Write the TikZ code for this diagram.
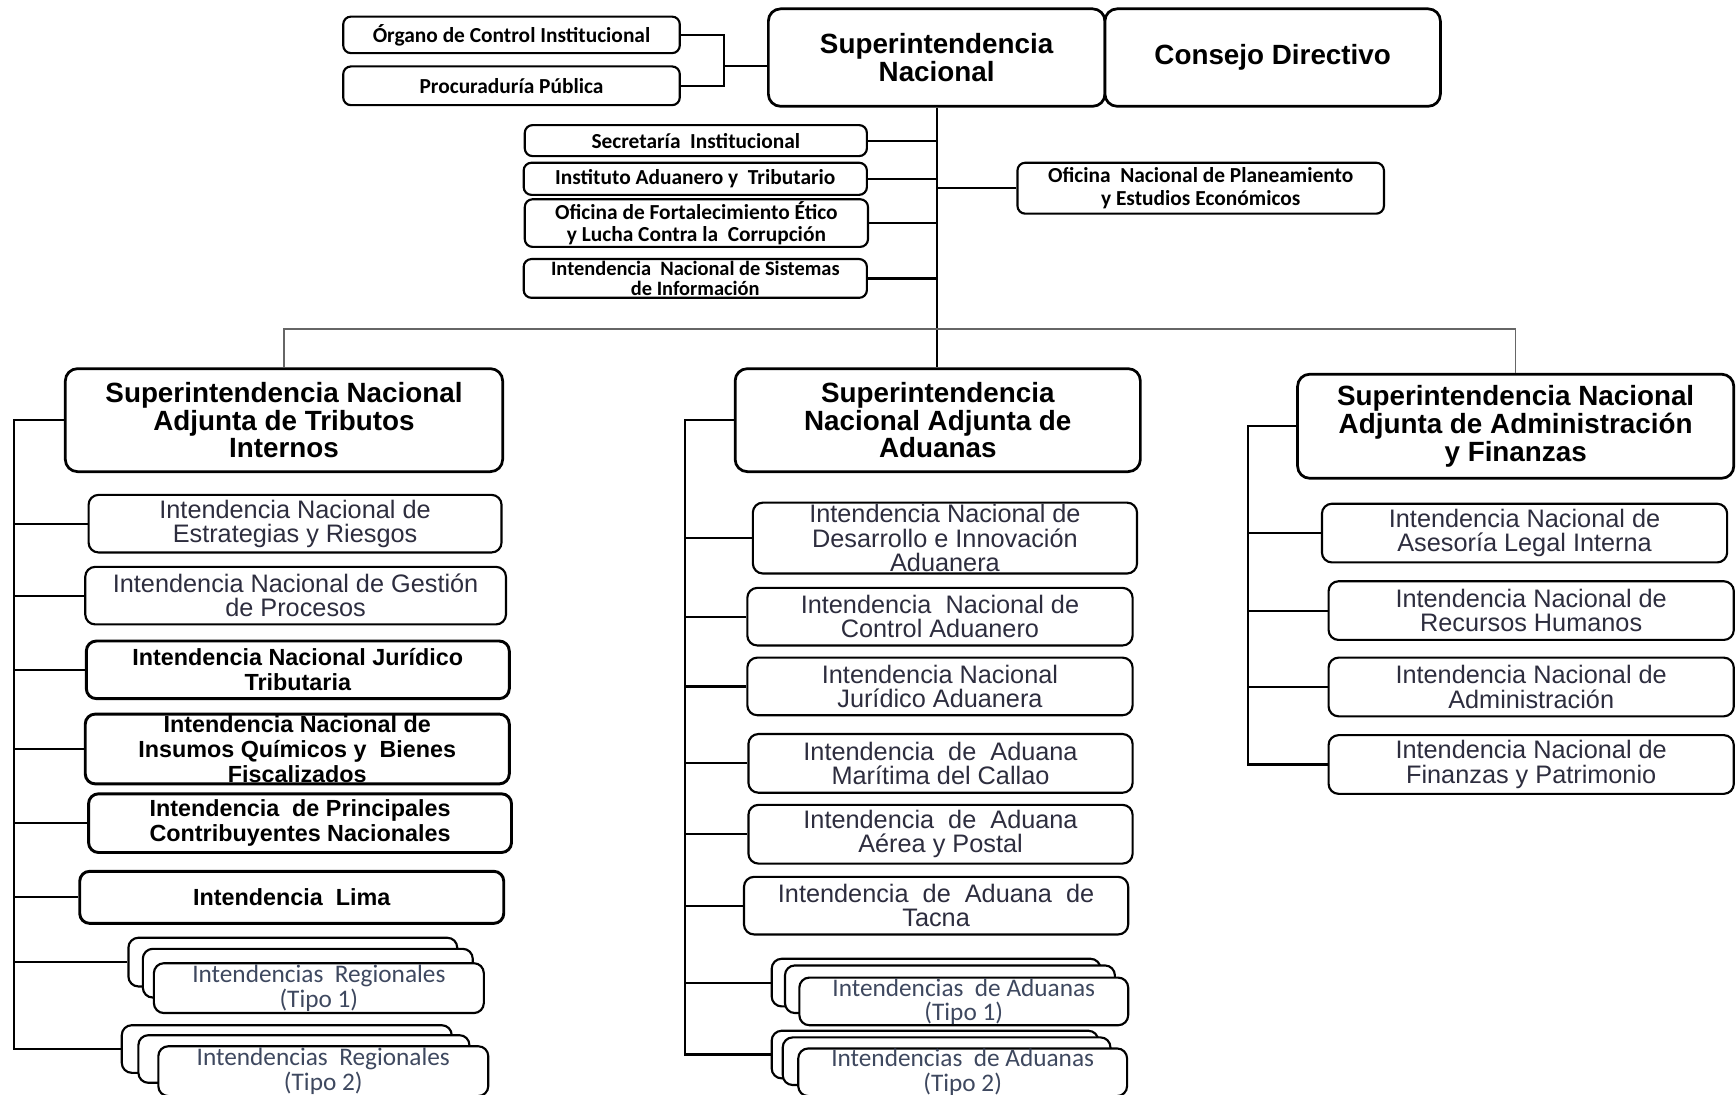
\documentclass[tikz,border=0pt]{standalone}
\usepackage{fontspec}
\setmainfont{Liberation Sans}
\setsansfont{Liberation Sans}
\newfontfamily\calib{Carlito}
\definecolor{unitgray}{RGB}{45,45,62}
\definecolor{reggray}{RGB}{62,72,95}
\tikzset{
  head/.style={draw,line width=1.4pt,rounded corners=0.22cm,fill=white,align=center,inner sep=0pt,font=\fontsize{14.3}{14.2}\selectfont\bfseries},
  small/.style={draw,line width=1.1pt,rounded corners=0.14cm,fill=white,align=center,inner sep=0pt,font=\calib\fontsize{11}{11.5}\selectfont\bfseries},
  unit/.style={draw,line width=1.1pt,rounded corners=0.18cm,fill=white,align=center,inner sep=0pt,text=unitgray,font=\fontsize{13}{12.5}\selectfont},
  unitb/.style={unit,line width=1.5pt,text=black,font=\fontsize{12}{12.8}\selectfont\bfseries},
  multi/.style={unit,text=reggray,font=\calib\fontsize{13}{12.5}\selectfont},
  wh/.style 2 args={minimum width=#1*0.02cm,minimum height=#2*0.02cm},
  link/.style={line width=1.1pt},
  bus/.style={line width=0.8pt,black!60},
}
\begin{document}
\begin{tikzpicture}[x=0.02cm,y=-0.02cm]
  \useasboundingbox (0,0) rectangle (1568,989);
  \node[small,wh={304}{33}] (org) at (462,31.5) {Órgano de Control Institucional};
  \node[small,wh={304}{35}] (proc) at (462,77.5) {Procuraduría Pública};
  \node[head,wh={304}{88}] (sn) at (846,52) {Superintendencia\\Nacional};
  \node[head,wh={303}{88}] (cd) at (1149.5,52) {Consejo Directivo};
  \node[small,wh={309}{28}] (sec) at (628.5,127) {Secretaría\ \ Institucional};
  \node[small,wh={310}{29}] (iat) at (628,161.5) {Instituto Aduanero y\ \ Tributario};
  \node[small,wh={310}{43}] (ofe) at (629,201.5) {Oficina de Fortalecimiento Ético\\y Lucha Contra la\ \ Corrupción};
  \node[small,wh={310}{35},font=\calib\fontsize{10.5}{10.5}\selectfont\bfseries] (insi) at (628,251.5) {Intendencia\ \ Nacional de Sistemas\\de Información};
  \node[small,wh={331}{46}] (onpe) at (1084.5,170) {Oficina\ \ Nacional de Planeamiento\\y Estudios Económicos};
  \coordinate (brk) at (654,60);
  \coordinate (bus) at (846,297);
  \coordinate (spl) at (13,0);
  \coordinate (spm) at (619,0);
  \coordinate (spr) at (1127,0);
  \node[head,wh={395}{93}] (stn) at (256.5,379.5) {Superintendencia Nacional\\Adjunta de Tributos\\Internos};
  \node[head,wh={366}{93}] (sna) at (847,379.5) {Superintendencia\\Nacional Adjunta de\\Aduanas};
  \node[head,wh={394}{94}] (saf) at (1369,385) {Superintendencia Nacional\\Adjunta de Administración\\y Finanzas};
  \node[unit,wh={373}{52}] (l1) at (266.5,473) {Intendencia Nacional de\\Estrategias y Riesgos};
  \node[unit,wh={380}{52}] (l2) at (267,538) {Intendencia Nacional de Gestión\\de Procesos};
  \node[unitb,wh={382}{52}] (l3) at (269,605) {Intendencia Nacional Jurídico\\Tributaria};
  \node[unitb,wh={383}{63}] (l4) at (268.5,676.5) {Intendencia Nacional de\\Insumos Químicos y\ \ Bienes\\Fiscalizados};
  \node[unitb,wh={382}{53}] (l5) at (271,743.5) {Intendencia\ \ de Principales\\Contribuyentes Nacionales};
  \node[unitb,wh={383}{47}] (l6) at (263.5,810.5) {Intendencia\ \ Lima};
  \node[multi,wh={297}{44}] (rg1a) at (264.5,869) {};
  \node[multi,wh={298}{44}] (rg1b) at (278,879) {};
  \node[multi,wh={298}{45}] (rg1) at (288,892.5) {Intendencias\ \ Regionales\\(Tipo 1)};
  \node[multi,wh={298}{43}] (rg2a) at (259,947.5) {};
  \node[multi,wh={299}{43}] (rg2b) at (274.5,956.5) {};
  \node[multi,wh={298}{45}] (rg2) at (292,967.5) {Intendencias\ \ Regionales\\(Tipo 2)};
  \node[unit,wh={347}{64}] (m1) at (853.5,486) {Intendencia Nacional de\\Desarrollo e Innovación\\Aduanera};
  \node[unit,wh={348}{52}] (m2) at (849,557) {Intendencia\ \ Nacional de\\Control Aduanero};
  \node[unit,wh={348}{52}] (m3) at (849,620) {Intendencia Nacional\\Jurídico Aduanera};
  \node[unit,wh={347}{53}] (m4) at (849.5,689.5) {Intendencia\ \ de\ \ Aduana\\Marítima del Callao};
  \node[unit,wh={347}{53}] (m5) at (849.5,753.5) {Intendencia\ \ de\ \ Aduana\\Aérea y Postal};
  \node[unit,wh={347}{52}] (m6) at (845.5,818) {Intendencia\ \ de\ \ Aduana\ \ de\\Tacna};
  \node[multi,wh={297}{43}] (ad1a) at (845.5,887.5) {};
  \node[multi,wh={298}{43}] (ad1b) at (858,893.5) {};
  \node[multi,wh={297}{43}] (ad1) at (870.5,904.5) {Intendencias\ \ de Aduanas\\(Tipo 1)};
  \node[multi,wh={295}{43}] (ad2a) at (844.5,952.5) {};
  \node[multi,wh={296}{43}] (ad2b) at (855,958.5) {};
  \node[multi,wh={297}{43}] (ad2) at (869.5,968.5) {Intendencias\ \ de Aduanas\\(Tipo 2)};
  \node[unit,wh={366}{53}] (r1) at (1377,481.5) {Intendencia Nacional de\\Asesoría Legal Interna};
  \node[unit,wh={366}{53}] (r2) at (1383,551.5) {Intendencia Nacional de\\Recursos Humanos};
  \node[unit,wh={366}{53}] (r3) at (1383,620.5) {Intendencia Nacional de\\Administración};
  \node[unit,wh={366}{53}] (r4) at (1383,690.5) {Intendencia Nacional de\\Finanzas y Patrimonio};
  \draw[link] (org.east) -| (brk) |- (proc.east);
  \draw[link] (brk) -- (brk -| sn.west);
  \draw[link] (sn.south) -- (sn.south |- sna.north);
  \foreach \n in {sec,iat,ofe,insi}
    \draw[link] (\n.east) -- (\n.east -| sn.south);
  \draw[link] (onpe.west) -- (onpe.west -| sn.south);
  \draw[bus] (stn.north) |- (bus) -| (saf.north);
  \draw[link] (stn.west) -| (spl |- rg2a.west) -- (rg2a.west);
  \foreach \n in {l1,l2,l3,l4,l5,l6,rg1a}
    \draw[link] (\n.west -| spl) -- (\n.west);
  \draw[link] (sna.west) -| (spm |- ad2a.west) -- (ad2a.west);
  \foreach \n in {m1,m2,m3,m4,m5,m6,ad1a}
    \draw[link] (\n.west -| spm) -- (\n.west);
  \draw[link] (saf.west) -| (spr |- r4.west) -- (r4.west);
  \foreach \n in {r1,r2,r3}
    \draw[link] (\n.west -| spr) -- (\n.west);
\end{tikzpicture}
\end{document}
